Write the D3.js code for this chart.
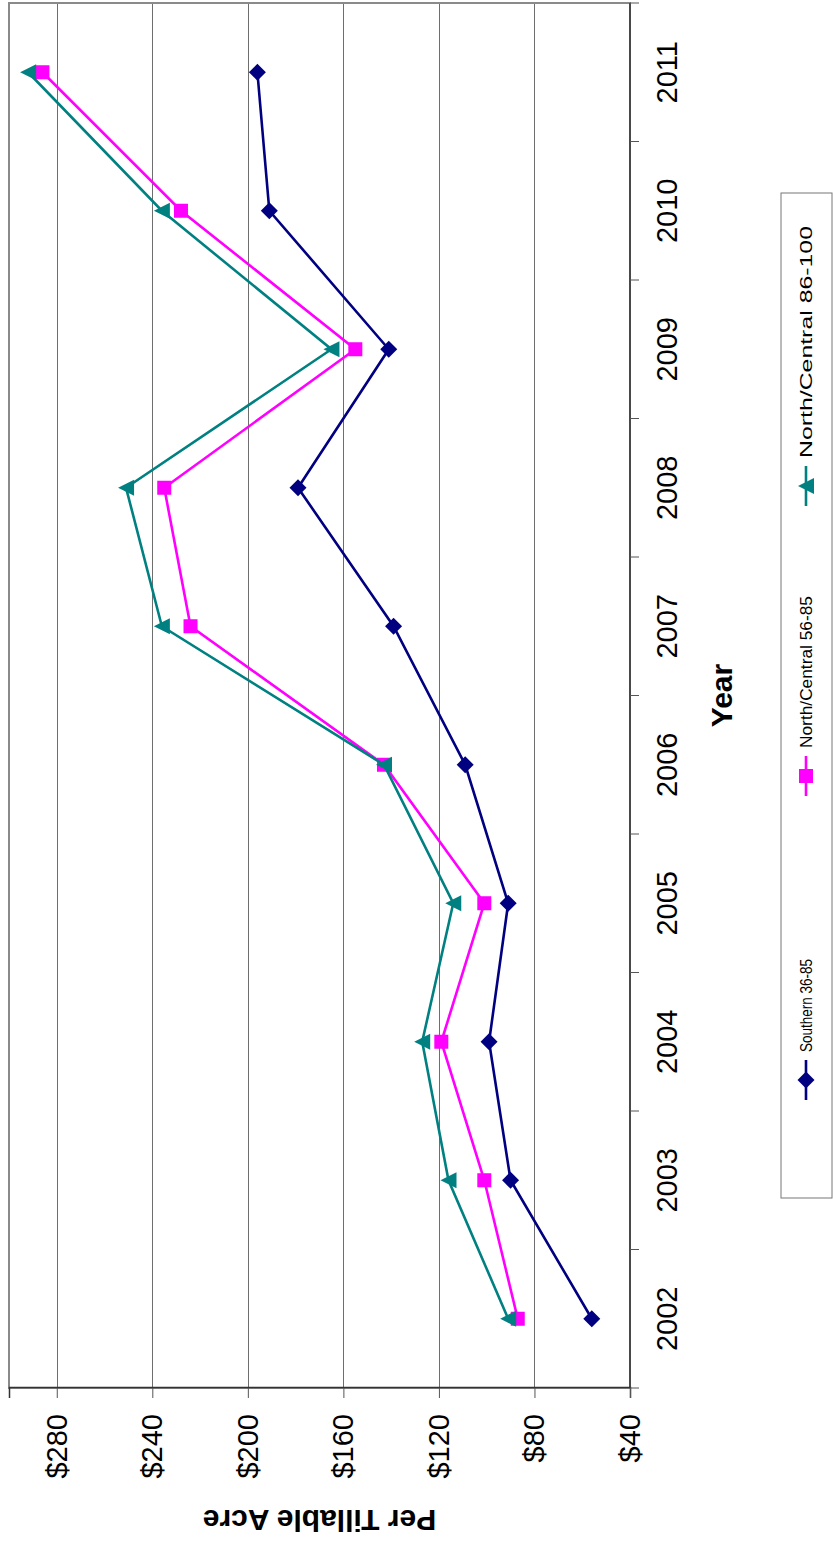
<!DOCTYPE html>
<html>
<head>
<meta charset="utf-8">
<script src="https://cdn.jsdelivr.net/npm/d3@7"></script>
<style>
  html, body { margin: 0; padding: 0; background: #fff; }
  svg { display: block; }
  text { font-family: "Liberation Sans", Arial, sans-serif; fill: #000; }
</style>
</head>
<body>
<div id="chart"></div>
<script>
// ---- data ----
const years = ["2002", "2003", "2004", "2005", "2006", "2007", "2008", "2009", "2010", "2011"];
const southern = [56, 90, 99, 91, 109, 139, 179, 141, 191, 196];
const northCentral5685 = [87, 101, 119, 101, 143, 224, 235, 155, 228, 286];
const northCentral86100 = [91, 116, 127, 114, 143, 236, 251, 165, 236, 292];
const valueTicks = [40, 80, 120, 160, 200, 240, 280];
const seriesNames = ["Southern 36-85", "North/Central 56-85", "North/Central 86-100"];
const seriesColors = ["#000080", "#FF00FF", "#008080"];
const seriesSymbols = ["diamond", "square", "triangle"];

// ---- layout (landscape chart, then rotated -90deg) ----
const W = 833, H = 1541;
const plot = { left: 153, right: 1538, top: 9, bottom: 630 };

const svg = d3.select("#chart").append("svg")
  .attr("width", W).attr("height", H);

const g = svg.append("g")
  .attr("transform", `translate(0,${H}) rotate(-90)`);

const x = d3.scaleBand().domain(years).range([plot.left, plot.right]).padding(0);
const y = d3.scaleLinear().domain([40, 300]).range([plot.bottom, plot.top]);

// gridlines
g.append("g").selectAll("line")
  .data(valueTicks.filter(v => v > 40))
  .join("line")
  .attr("x1", plot.left).attr("x2", plot.right)
  .attr("y1", d => Math.round(y(d)) + 0.5).attr("y2", d => Math.round(y(d)) + 0.5)
  .attr("stroke", "#6e6e6e").attr("stroke-width", 1);

// plot border
g.append("rect")
  .attr("x", plot.left).attr("y", plot.top)
  .attr("width", plot.right - plot.left).attr("height", plot.bottom - plot.top)
  .attr("fill", "none").attr("stroke", "#8a8a8a").attr("stroke-width", 2);

// value axis
const yAxis = d3.axisLeft(y).tickValues(valueTicks).tickFormat(d => "$" + d)
  .tickSize(10).tickPadding(16);
const ya = g.append("g").attr("transform", `translate(${plot.left},0)`).call(yAxis);
ya.select(".domain").attr("stroke", "#333").attr("stroke-width", 1.5);
ya.selectAll(".tick line").attr("stroke", "#555");
ya.selectAll(".tick text")
  .attr("font-size", 29)
  .style("font-family", '"Liberation Sans", Arial, sans-serif')
  .attr("fill", "#000");

// category axis
const xa = g.append("g");
xa.append("line")
  .attr("x1", plot.left).attr("x2", plot.right)
  .attr("y1", plot.bottom).attr("y2", plot.bottom)
  .attr("stroke", "#333").attr("stroke-width", 1.5);
const edges = years.map(d => x(d)).concat([x(years[years.length - 1]) + x.bandwidth()]);
xa.selectAll("line.tk").data(edges).join("line").attr("class", "tk")
  .attr("x1", d => d).attr("x2", d => d)
  .attr("y1", plot.bottom).attr("y2", plot.bottom + 9)
  .attr("stroke", "#555").attr("stroke-width", 1);
xa.selectAll("text").data(years).join("text")
  .attr("x", d => x(d) + x.bandwidth() / 2)
  .attr("y", 677)
  .attr("text-anchor", "middle")
  .attr("font-size", 29)
  .text(d => d);

// axis titles
g.append("text")
  .attr("x", (plot.left + plot.right) / 2).attr("y", 732)
  .attr("text-anchor", "middle").attr("font-size", 30).attr("font-weight", "bold")
  .text("Year");
g.append("text")
  .attr("transform", `translate(31,${(plot.top + plot.bottom) / 2}) rotate(-90)`)
  .attr("text-anchor", "middle").attr("font-size", 30).attr("font-weight", "bold")
  .text("Per Tillable Acre");

// symbol helper
function marker(sel, type, color, cx, cy) {
  if (type === "diamond") {
    const r = 8.5;
    sel.append("path").attr("d", `M${cx},${cy - r}L${cx + r},${cy}L${cx},${cy + r}L${cx - r},${cy}Z`)
      .attr("fill", color);
  } else if (type === "square") {
    const s = 14;
    sel.append("rect").attr("x", cx - s / 2).attr("y", cy - s / 2).attr("width", s).attr("height", s)
      .attr("fill", color);
  } else {
    const w = 16, h = 16;
    sel.append("path").attr("d", `M${cx},${cy - h / 2}L${cx + w / 2},${cy + h / 2}L${cx - w / 2},${cy + h / 2}Z`)
      .attr("fill", color);
  }
}

// series
const allSeries = [southern, northCentral5685, northCentral86100];
const line = d3.line().x((d, i) => x(years[i]) + x.bandwidth() / 2).y(d => y(d));
allSeries.forEach((vals, si) => {
  const sg = g.append("g");
  sg.append("path").datum(vals).attr("d", line)
    .attr("fill", "none").attr("stroke", seriesColors[si]).attr("stroke-width", 2.6)
    .attr("stroke-linejoin", "miter");
  vals.forEach((v, i) => marker(sg, seriesSymbols[si], seriesColors[si], x(years[i]) + x.bandwidth() / 2, y(v)));
});

// legend
const legendBox = { x: 343, y: 781, w: 1005, h: 51 };
const lg = g.append("g");
lg.append("rect").attr("x", legendBox.x).attr("y", legendBox.y)
  .attr("width", legendBox.w).attr("height", legendBox.h)
  .attr("fill", "#fff").attr("stroke", "#777").attr("stroke-width", 1);
const legendX = [441, 745, 1035];
const legendTextLen = [93, 152, 232];
const ly = 806;
seriesNames.forEach((name, i) => {
  const lx = legendX[i];
  lg.append("line").attr("x1", lx).attr("x2", lx + 40).attr("y1", ly).attr("y2", ly)
    .attr("stroke", seriesColors[i]).attr("stroke-width", 2.6);
  marker(lg, seriesSymbols[i], seriesColors[i], lx + 20, ly);
  lg.append("text").attr("x", lx + 48).attr("y", ly + 6)
    .attr("font-size", 17)
    .attr("textLength", legendTextLen[i])
    .attr("lengthAdjust", "spacingAndGlyphs")
    .text(name);
});
</script>
</body>
</html>
